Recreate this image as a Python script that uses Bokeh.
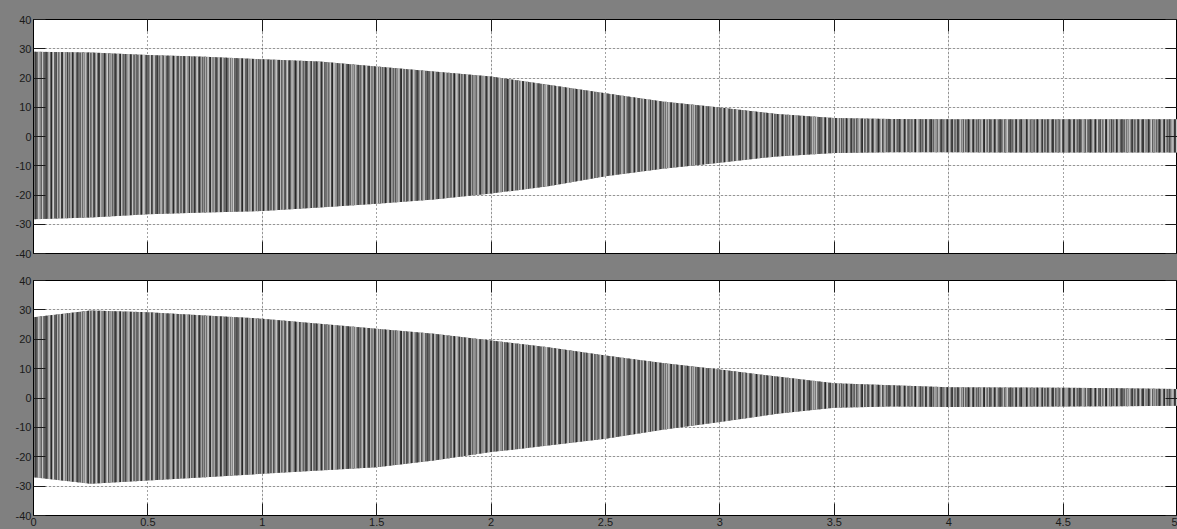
from bokeh.plotting import figure
from bokeh.layouts import column
from bokeh.models import (LinearAxis, FixedTicker, CustomJSTickFormatter, Range1d,
                          ColumnDataSource, Grid)
from bokeh.embed import file_html
from bokeh.resources import INLINE

# ---- data (envelope of the oscillating signals) ----
time_s = [0.0, 0.25, 0.5, 0.75, 1.0, 1.25, 1.5, 1.75, 2.0, 2.25, 2.5, 2.75,
          3.0, 3.25, 3.5, 3.75, 4.0, 4.25, 4.5, 4.75, 5.0]
top_upper = [29.0, 28.7, 27.9, 27.3, 26.4, 25.6, 23.9, 22.2, 20.5, 17.7, 14.8, 12.0,
             9.9, 7.7, 6.3, 6.0, 5.9, 5.9, 5.9, 5.9, 5.9]
top_lower = [-28.3, -27.7, -26.6, -26.0, -25.5, -24.3, -23.0, -21.5, -19.5, -17.0, -13.6, -11.0,
             -9.0, -6.8, -5.6, -5.4, -5.4, -5.5, -5.5, -5.5, -5.5]
bottom_upper = [27.5, 29.8, 29.2, 28.1, 27.0, 25.3, 23.6, 21.9, 19.6, 17.3, 14.5, 11.9,
                9.7, 7.3, 5.0, 4.3, 3.7, 3.6, 3.5, 3.3, 3.1]
bottom_lower = [-27.0, -29.2, -28.1, -27.0, -25.8, -24.7, -23.6, -21.3, -18.4, -16.2, -13.9, -10.8,
                -8.2, -5.4, -3.3, -2.9, -3.1, -3.0, -2.9, -2.8, -2.6]

x_ticks = [0, 0.5, 1, 1.5, 2, 2.5, 3, 3.5, 4, 4.5, 5]
x_tick_labels = ["0", "0.5", "1", "1.5", "2", "2.5", "3", "3.5", "4", "4.5", "5"]
y_ticks = [-40, -30, -20, -10, 0, 10, 20, 30, 40]
y_tick_labels = ["-40", "-30", "-20", "-10", "0", "10", "20", "30", "40"]

BG = "#808080"
FONT = "Liberation Sans"


def label_formatter(tick_vals, tick_texts):
    return CustomJSTickFormatter(
        args=dict(tv=tick_vals, tl=tick_texts),
        code="const i = tv.findIndex(t => Math.abs(t - tick) < 1e-9); return i >= 0 ? tl[i] : '';")


def make_axis(tick_vals, tick_texts, show):
    ax = LinearAxis(ticker=FixedTicker(ticks=tick_vals),
                    major_tick_in=12, major_tick_out=0,
                    minor_tick_line_color=None,
                    major_tick_line_color="#1a1a1a", major_tick_line_width=1,
                    axis_line_color="black")
    if show:
        ax.formatter = label_formatter(tick_vals, tick_texts)
        ax.major_label_text_font = FONT
        ax.major_label_text_font_size = "11px"
        ax.major_label_text_color = "#1a1a1a"
        ax.major_label_standoff = 2
    else:
        ax.major_label_text_color = None
        ax.major_label_text_font_size = "0px"
        ax.major_label_standoff = 0
    return ax


def make_panel(height, border_top, border_bottom, upper, lower, show_x_labels):
    p = figure(width=1177, height=height, output_backend="svg", toolbar_location=None,
               x_range=Range1d(0, 5), y_range=Range1d(-40, 40),
               x_axis_location=None, y_axis_location=None,
               min_border_left=33, min_border_right=0,
               min_border_top=border_top, min_border_bottom=border_bottom,
               background_fill_color="white", border_fill_color=BG,
               outline_line_color="black", outline_line_width=1)

    p.add_layout(Grid(dimension=0, ticker=FixedTicker(ticks=x_ticks),
                      grid_line_color="#444444", grid_line_dash="1 3", grid_line_width=1))
    p.add_layout(Grid(dimension=1, ticker=FixedTicker(ticks=y_ticks),
                      grid_line_color="#444444", grid_line_dash="1 3", grid_line_width=1))

    p.add_layout(make_axis(y_ticks, y_tick_labels, True), "left")
    p.add_layout(make_axis(y_ticks, y_tick_labels, False), "right")
    p.add_layout(make_axis(x_ticks, x_tick_labels, False), "above")
    p.add_layout(make_axis(x_ticks, x_tick_labels, show_x_labels), "below")

    src = ColumnDataSource(dict(t=time_s, upper=upper, lower=lower))
    p.varea(x="t", y1="lower", y2="upper", source=src,
            fill_color="#626262",
            hatch_pattern="vertical_line", hatch_color="#ececec",
            hatch_scale=3.6, hatch_weight=1.2)
    p.varea(x="t", y1="lower", y2="upper", source=src,
            fill_alpha=0,
            hatch_pattern="vertical_line", hatch_color="#1a1a1a",
            hatch_scale=5.3, hatch_weight=1.3)
    p.varea(x="t", y1="lower", y2="upper", source=src,
            fill_alpha=0,
            hatch_pattern="vertical_line", hatch_color="#b4b4b4",
            hatch_scale=8.7, hatch_weight=1.2)
    return p


p_top = make_panel(266, 19, 13, top_upper, top_lower, False)
p_bottom = make_panel(263, 14, 14, bottom_upper, bottom_lower, True)

layout = column(p_top, p_bottom, spacing=0, styles={"background-color": BG})
open("out.html", "w").write(file_html(layout, INLINE))
